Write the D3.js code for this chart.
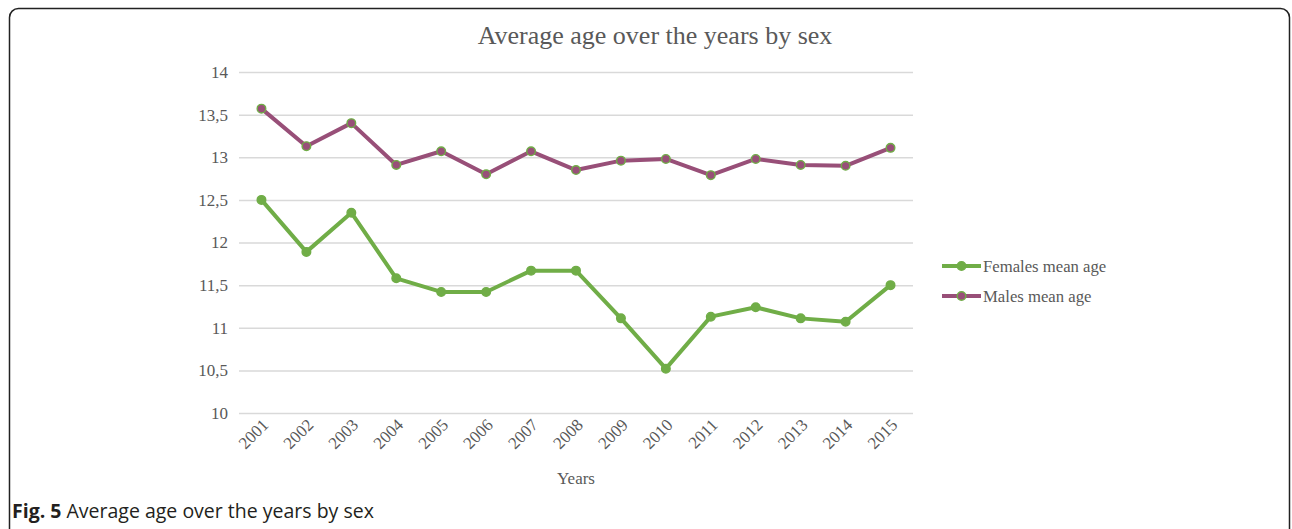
<!DOCTYPE html>
<html lang="en">
<head>
  <meta charset="UTF-8" />
  <title>Average age over the years by sex</title>
  <script src="https://d3js.org/d3.v7.min.js"></script>
  <style>
    body {
      margin: 0;
      background: #fff;
    }
    svg text {
      font-family: "Liberation Serif", "Times New Roman", serif;
      fill: #595959;
    }
    svg text.caption, svg text.caption tspan {
      font-family: "Open Sans", sans-serif;
      fill: #231f20;
    }
  </style>
</head>
<body>
<svg id="chart"></svg>

<script>
const years = ["2001", "2002", "2003", "2004", "2005", "2006", "2007", "2008",
  "2009", "2010", "2011", "2012", "2013", "2014", "2015"];
const femalesMean = [12.5, 11.89, 12.35, 11.58, 11.42, 11.42, 11.67, 11.67,
  11.11, 10.52, 11.13, 11.24, 11.11, 11.07, 11.5];
const malesMean = [13.57, 13.13, 13.40, 12.91, 13.07, 12.80, 13.07, 12.85,
  12.96, 12.98, 12.79, 12.98, 12.91, 12.90, 13.11];
const yTicks = [10, 10.5, 11, 11.5, 12, 12.5, 13, 13.5, 14];

const series = [
  {name: "Females mean age", values: femalesMean, color: "#70ad47", marker: "#70ad47"},
  {name: "Males mean age", values: malesMean, color: "#984f78", marker: "#984f78"}
];

const width = 1292, height = 529;
const svg = d3.select("#chart").attr("width", width).attr("height", height);

// frame round the figure
svg.append("rect")
  .attr("x", 9.5).attr("y", 8.5)
  .attr("width", 1280).attr("height", 535)
  .attr("rx", 9)
  .attr("fill", "none")
  .attr("stroke", "#222")
  .attr("stroke-width", 1.5);

const plot = {left: 239, right: 913, top: 72, bottom: 413};

const x = d3.scaleBand().domain(years).range([plot.left, plot.right]);
const y = d3.scaleLinear().domain([10, 14]).range([plot.bottom, plot.top]);

const locale = d3.formatLocale({decimal: ",", thousands: ".", grouping: [3], currency: ["", ""]});
const fmt = v => locale.format("~g")(v);

// grid + y labels
const yAxis = svg.append("g")
  .attr("transform", `translate(${plot.left},0)`)
  .call(d3.axisLeft(y).tickValues(yTicks).tickFormat(fmt)
    .tickSize(-(plot.right - plot.left)).tickPadding(11));
yAxis.select(".domain").remove();
yAxis.selectAll(".tick line").attr("stroke", "#d9d9d9").attr("stroke-width", 1.5);
yAxis.selectAll(".tick text").style("font-size", "17px").attr("fill", "#595959");

// x labels
const xAxis = svg.append("g")
  .attr("transform", `translate(0,${plot.bottom})`)
  .call(d3.axisBottom(x).tickSize(0).tickPadding(0));
xAxis.select(".domain").remove();
xAxis.selectAll(".tick text")
  .style("font-size", "17px")
  .attr("fill", "#595959")
  .attr("text-anchor", "end")
  .attr("dy", 0)
  .attr("transform", "translate(8,13) rotate(-45)");

svg.append("text")
  .attr("x", (plot.left + plot.right) / 2)
  .attr("y", 484)
  .attr("text-anchor", "middle")
  .style("font-size", "17px")
  .text("Years");

svg.append("text")
  .attr("x", 655)
  .attr("y", 44)
  .attr("text-anchor", "middle")
  .style("font-size", "26px")
  .text("Average age over the years by sex");

// lines
const cx = d => x(d) + x.bandwidth() / 2;
const line = d3.line().x((v, i) => cx(years[i])).y(v => y(v));

series.forEach(s => {
  svg.append("path")
    .datum(s.values)
    .attr("d", line)
    .attr("fill", "none")
    .attr("stroke", s.color)
    .attr("stroke-width", 4)
    .attr("stroke-linejoin", "round");

  svg.append("g").selectAll("circle")
    .data(s.values)
    .enter().append("circle")
    .attr("cx", (v, i) => cx(years[i]))
    .attr("cy", v => y(v))
    .attr("r", 4.3)
    .attr("fill", s.marker)
    .attr("stroke", "#70ad47")
    .attr("stroke-width", 1.4);
});

// legend
const legend = svg.append("g").attr("transform", "translate(942,266)");
series.forEach((s, i) => {
  const g = legend.append("g").attr("transform", `translate(0,${i * 30})`);
  g.append("line").attr("x1", 0).attr("x2", 39)
    .attr("stroke", s.color).attr("stroke-width", 4);
  g.append("circle").attr("cx", 19.5).attr("r", 4.3)
    .attr("fill", s.marker).attr("stroke", "#70ad47").attr("stroke-width", 1.4);
  g.append("text").attr("x", 41).attr("dy", "0.35em")
    .style("font-size", "16.7px").text(s.name);
});

// caption
const cap = svg.append("text").attr("class", "caption")
  .attr("x", 12).attr("y", 518).style("font-size", "19.5px");
cap.append("tspan").attr("font-weight", "bold").text("Fig. 5");
cap.append("tspan").text(" Average age over the years by sex");
</script>
</body>
</html>
